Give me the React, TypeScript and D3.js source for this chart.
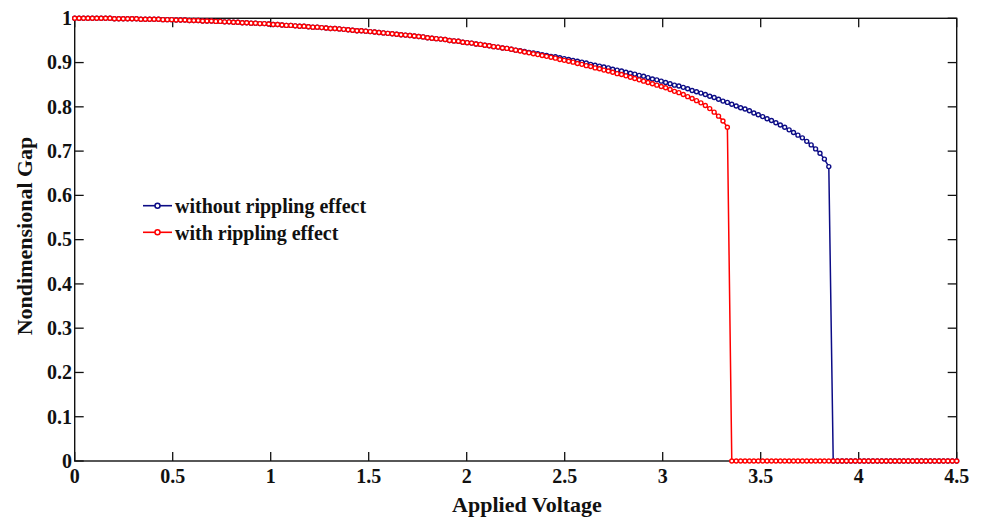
import React from 'react';
import * as d3 from 'd3';

// ---- data ----
const X_TICKS = [0, 0.5, 1, 1.5, 2, 2.5, 3, 3.5, 4, 4.5];
const Y_TICKS = [0, 0.1, 0.2, 0.3, 0.4, 0.5, 0.6, 0.7, 0.8, 0.9, 1];
const VOLTAGE_STEP = 0.0225; // sampling grid of applied voltage

const GAP_WITHOUT = [
  1.000, 1.000, 1.000, 1.000, 1.000, 1.000, 1.000, 1.000, 1.000, 0.999,
  0.999, 0.999, 0.999, 0.999, 0.999, 0.998, 0.998, 0.998, 0.998, 0.998,
  0.997, 0.997, 0.997, 0.996, 0.996, 0.996, 0.995, 0.995, 0.995, 0.994,
  0.994, 0.994, 0.993, 0.993, 0.992, 0.992, 0.991, 0.991, 0.990, 0.990,
  0.989, 0.989, 0.988, 0.988, 0.987, 0.986, 0.986, 0.985, 0.984, 0.984,
  0.983, 0.982, 0.982, 0.981, 0.980, 0.980, 0.979, 0.978, 0.977, 0.977,
  0.976, 0.975, 0.974, 0.973, 0.972, 0.972, 0.971, 0.970, 0.969, 0.968,
  0.967, 0.966, 0.965, 0.964, 0.963, 0.962, 0.961, 0.960, 0.959, 0.958,
  0.956, 0.955, 0.954, 0.953, 0.952, 0.950, 0.949, 0.948, 0.946, 0.945,
  0.944, 0.942, 0.941, 0.939, 0.938, 0.936, 0.935, 0.933, 0.932, 0.930,
  0.928, 0.927, 0.925, 0.923, 0.922, 0.920, 0.918, 0.916, 0.914, 0.913,
  0.911, 0.909, 0.907, 0.905, 0.903, 0.901, 0.899, 0.896, 0.894, 0.892,
  0.890, 0.888, 0.885, 0.883, 0.881, 0.878, 0.876, 0.874, 0.871, 0.869,
  0.866, 0.863, 0.861, 0.858, 0.855, 0.852, 0.849, 0.847, 0.844, 0.841,
  0.837, 0.834, 0.831, 0.828, 0.824, 0.821, 0.817, 0.813, 0.810, 0.806,
  0.802, 0.798, 0.795, 0.791, 0.786, 0.782, 0.778, 0.773, 0.769, 0.764,
  0.759, 0.754, 0.748, 0.742, 0.736, 0.730, 0.722, 0.714, 0.705, 0.695,
  0.682, 0.665, 0, 0, 0, 0, 0, 0, 0, 0,
  0, 0, 0, 0, 0, 0, 0, 0, 0, 0,
  0, 0, 0, 0, 0, 0, 0, 0, 0, 0,
  0,
];

const GAP_WITH = [
  1.000, 1.000, 1.000, 1.000, 1.000, 1.000, 1.000, 1.000, 1.000, 0.999,
  0.999, 0.999, 0.999, 0.999, 0.999, 0.998, 0.998, 0.998, 0.998, 0.998,
  0.997, 0.997, 0.997, 0.996, 0.996, 0.996, 0.995, 0.995, 0.995, 0.994,
  0.994, 0.994, 0.993, 0.993, 0.992, 0.992, 0.991, 0.991, 0.990, 0.990,
  0.989, 0.989, 0.988, 0.988, 0.987, 0.986, 0.986, 0.985, 0.984, 0.984,
  0.983, 0.982, 0.982, 0.981, 0.980, 0.980, 0.979, 0.978, 0.977, 0.977,
  0.976, 0.975, 0.974, 0.973, 0.972, 0.972, 0.971, 0.970, 0.969, 0.968,
  0.967, 0.966, 0.965, 0.964, 0.963, 0.962, 0.961, 0.960, 0.959, 0.958,
  0.956, 0.955, 0.954, 0.953, 0.952, 0.950, 0.949, 0.948, 0.946, 0.945,
  0.944, 0.942, 0.941, 0.939, 0.938, 0.936, 0.935, 0.933, 0.932, 0.930,
  0.928, 0.926, 0.924, 0.922, 0.920, 0.918, 0.916, 0.914, 0.912, 0.910,
  0.907, 0.905, 0.903, 0.901, 0.898, 0.896, 0.893, 0.891, 0.888, 0.886,
  0.883, 0.881, 0.878, 0.875, 0.873, 0.870, 0.867, 0.864, 0.861, 0.858,
  0.855, 0.852, 0.849, 0.846, 0.843, 0.839, 0.835, 0.832, 0.828, 0.823,
  0.819, 0.814, 0.809, 0.803, 0.796, 0.788, 0.779, 0.768, 0.754, 0,
  0, 0, 0, 0, 0, 0, 0, 0, 0, 0,
  0, 0, 0, 0, 0, 0, 0, 0, 0, 0,
  0, 0, 0, 0, 0, 0, 0, 0, 0, 0,
  0, 0, 0, 0, 0, 0, 0, 0, 0, 0,
  0, 0, 0, 0, 0, 0, 0, 0, 0, 0,
  0,
];

const SERIES_NAMES = ['without rippling effect', 'with rippling effect'];
const SERIES_COLORS = ['#0c0c86', '#ff0000'];
const X_LABEL = 'Applied Voltage';
const Y_LABEL = 'Nondimensional Gap';

const FONT = '"Liberation Serif", "Times New Roman", Times, serif';

export default function App() {
  const W = 982;
  const H = 519;
  const x = d3.scaleLinear().domain([0, 4.5]).range([74.7, 956.7]);
  const y = d3.scaleLinear().domain([0, 1]).range([461, 18.3]);
  const line = d3
    .line<number>()
    .x((_, i) => x(i * VOLTAGE_STEP))
    .y((d) => y(d));

  const series = [GAP_WITHOUT, GAP_WITH];
  const [x0, x1] = x.range();
  const [y0, y1] = y.range();
  const tickLen = 9;

  return (
    <svg
      width={W}
      height={H}
      style={{ position: 'absolute', left: 0, top: 0, background: '#fff' }}
      fontFamily={FONT}
      fontWeight="bold"
    >
      <rect x={0} y={0} width={W} height={H} fill="#fff" />
      {/* frame */}
      <rect x={x0} y={y1} width={x1 - x0} height={y0 - y1} fill="none" stroke="#111" strokeWidth={1.4} />
      {X_TICKS.map((t) => (
        <g key={'xt' + t}>
          <line x1={x(t)} x2={x(t)} y1={y0} y2={y0 - tickLen} stroke="#111" strokeWidth={1.3} />
          <line x1={x(t)} x2={x(t)} y1={y1} y2={y1 + tickLen} stroke="#111" strokeWidth={1.3} />
          <text x={x(t)} y={483} fontSize={20} textAnchor="middle" fill="#111">
            {String(t)}
          </text>
        </g>
      ))}
      {Y_TICKS.map((t) => (
        <g key={'yt' + t}>
          <line x1={x0} x2={x0 + tickLen} y1={y(t)} y2={y(t)} stroke="#111" strokeWidth={1.3} />
          <line x1={x1} x2={x1 - tickLen} y1={y(t)} y2={y(t)} stroke="#111" strokeWidth={1.3} />
          <text x={72} y={y(t) + 6.8} fontSize={20} textAnchor="end" fill="#111">
            {String(t)}
          </text>
        </g>
      ))}
      {/* series */}
      {series.map((s, k) => (
        <g key={k}>
          <path d={line(s) || ''} fill="none" stroke={SERIES_COLORS[k]} strokeWidth={1.5} />
          {s.map((v, i) => (
            <circle
              key={i}
              cx={x(i * VOLTAGE_STEP)}
              cy={y(v)}
              r={2.0}
              fill="#fff"
              stroke={SERIES_COLORS[k]}
              strokeWidth={1.4}
            />
          ))}
        </g>
      ))}
      {/* axis titles */}
      <text x={527} y={511.5} fontSize={22} textAnchor="middle" fill="#111">
        {X_LABEL}
      </text>
      <text
        transform={`translate(31.5, ${236}) rotate(-90)`}
        fontSize={22}
        textAnchor="middle"
        fill="#111"
      >
        {Y_LABEL}
      </text>
      {/* legend */}
      {SERIES_NAMES.map((name, k) => {
        const ly = 205.7 + k * 26.6;
        return (
          <g key={name}>
            <line x1={143} x2={172} y1={ly} y2={ly} stroke={SERIES_COLORS[k]} strokeWidth={1.6} />
            <circle cx={157.5} cy={ly} r={2.5} fill="#fff" stroke={SERIES_COLORS[k]} strokeWidth={1.5} />
            <text x={175} y={ly + 7.5} fontSize={20} fill="#111">
              {name}
            </text>
          </g>
        );
      })}
    </svg>
  );
}
